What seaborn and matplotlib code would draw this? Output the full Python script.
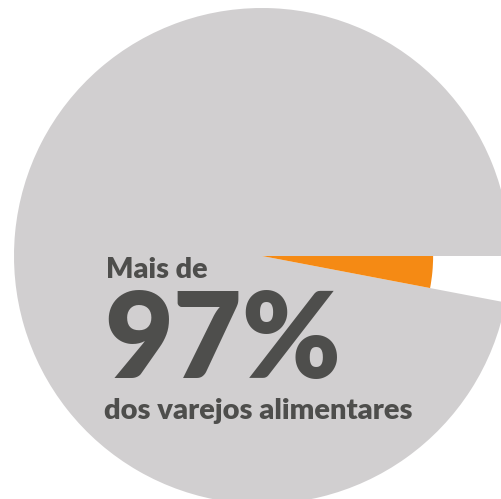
import os
import matplotlib
matplotlib.use("Agg")
import matplotlib.pyplot as plt
import seaborn as sns
from matplotlib.font_manager import FontProperties

labels = ["Outros", "Varejos alimentares"]
values = [3, 97]
colors = {"grey": "#d1cfd0", "orange": "#f58a14", "text": "#4e4e4c"}

sns.set_theme(style="white")
plt.rcParams["font.family"] = ["Lato", "DejaVu Sans"]


def lato_font(fname, weight, size):
    for d in ("/usr/share/fonts/truetype/lato", "/usr/share/fonts/truetype/google-fonts"):
        p = os.path.join(d, fname)
        if os.path.exists(p):
            return FontProperties(fname=p, size=size)
    return FontProperties(family=["Lato", "DejaVu Sans"], weight=weight, size=size)


W, H = 502, 499
fig = plt.figure(figsize=(W / 100, H / 100), dpi=100)
fig.patch.set_facecolor("white")

cx, cy, R = 262, 499 - 256, 248
ax = fig.add_axes([(cx - R) / W, (cy - R) / H, 2 * R / W, 2 * R / H])
ax.set_facecolor("none")

# grey 97 % pie, 3 % slice left empty
ax.pie([values[1], values[0]], colors=[colors["grey"], "none"], startangle=0,
       counterclock=True, radius=1.0, wedgeprops=dict(linewidth=0))
# orange 3 % slice at a reduced radius
ax.pie([values[1], values[0]], colors=["none", colors["orange"]], startangle=0,
       counterclock=True, radius=0.69, wedgeprops=dict(linewidth=0))
ax.set_xlim(-1, 1)
ax.set_ylim(-1, 1)
ax.set_aspect("auto")
ax.axis("off")


def px(x, y):
    return x / W, (H - y) / H


fig.text(*px(106, 278), "Mais de", fontproperties=lato_font("Lato-Black.ttf", 900, 20.7),
         color=colors["text"], ha="left", va="baseline")
fig.text(*px(104, 378), "97%", fontproperties=lato_font("Lato-Black.ttf", 900, 85.5),
         color=colors["text"], ha="left", va="baseline")
fig.text(*px(104, 419), "dos varejos alimentares",
         fontproperties=lato_font("Lato-Black.ttf", 900, 21),
         color=colors["text"], ha="left", va="baseline")

fig.savefig("out.png", dpi=100, facecolor="white")
